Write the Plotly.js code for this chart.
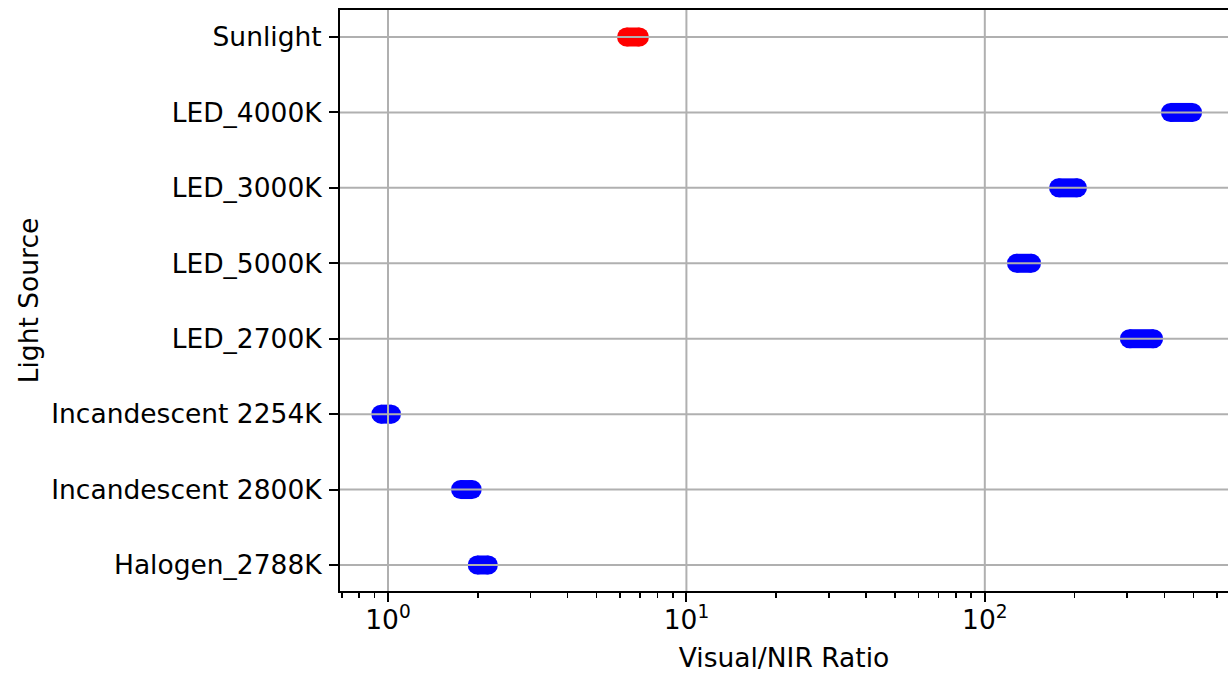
<!DOCTYPE html>
<html>
<head>
<meta charset="utf-8">
<script src="https://cdn.plot.ly/plotly-3.0.1.min.js"></script>
<style>
  html, body { margin: 0; padding: 0; background: #ffffff; }
  #chart { width: 1228px; height: 673px; }
</style>
</head>
<body>
<div id="chart"></div>
<script>
// Light sources, listed bottom to top
const sources = [
  "Halogen_2788K",
  "Incandescent 2800K",
  "Incandescent 2254K",
  "LED_2700K",
  "LED_5000K",
  "LED_3000K",
  "LED_4000K",
  "Sunlight"
];
// Lowest and highest Visual/NIR ratio measured for each source
const ratioLow  = [1.99, 1.75, 0.946, 305, 127.7, 176.6, 419, 6.30];
const ratioHigh = [2.17, 1.915, 1.027, 368, 143.4, 204.5, 497, 6.96];
const highlight = "Sunlight";

const majorTicks = [1, 10, 100];
const majorTickText = ["10<sup>0</sup>", "10<sup>1</sup>", "10<sup>2</sup>"];
const minorTicks = [0.7, 0.8, 0.9, 2, 3, 4, 5, 6, 7, 8, 9,
                    20, 30, 40, 50, 60, 70, 80, 90, 200, 300, 400, 500, 600];

const FONT = "DejaVu Sans, Verdana, sans-serif";
const GRID = "#b0b0b0";

// One trace per colour; each source is a thick capped segment from low to high
function rangeTrace(names, color) {
  const xs = [], ys = [];
  sources.forEach((s, i) => {
    if (!names.includes(s)) return;
    xs.push(ratioLow[i], ratioHigh[i], null);
    ys.push(s, s, null);
  });
  return {
    type: "scatter",
    mode: "lines+markers",
    x: xs, y: ys,
    connectgaps: false,
    line: { color: color, width: 19 },
    marker: { color: color, size: 19, line: { width: 0 } },
    hoverinfo: "x+y",
    showlegend: false
  };
}

const others = sources.filter(s => s !== highlight);
const traces = [
  rangeTrace(others, "#0000ff"),
  rangeTrace([highlight], "#ff0000")
];

// Grid lines sit on top of the marks
const shapes = [];
sources.forEach(s => shapes.push({
  type: "line", layer: "above", xref: "paper", x0: 0, x1: 1, yref: "y", y0: s, y1: s,
  line: { color: GRID, width: 2 }
}));
majorTicks.forEach(v => shapes.push({
  type: "line", layer: "above", xref: "x", x0: v, x1: v,
  yref: "paper", y0: 0, y1: 1,
  line: { color: GRID, width: 2 }
}));

const layout = {
  width: 1228, height: 673,
  margin: { l: 340, r: 0, t: 10, b: 82, pad: 0 },
  paper_bgcolor: "#ffffff", plot_bgcolor: "#ffffff",
  font: { family: FONT, size: 26.5, color: "#000000" },
  shapes: shapes,
  xaxis: {
    type: "log",
    range: [-0.1609, 2.815],
    tickmode: "array", tickvals: majorTicks, ticktext: majorTickText,
    ticks: "outside", ticklen: 9, tickwidth: 2, tickcolor: "#000000",
    ticklabelstandoff: -5,
    showline: true, linecolor: "#000000", linewidth: 2, mirror: true,
    showgrid: false, zeroline: false,
    minor: {
      tickmode: "array", tickvals: minorTicks,
      ticks: "outside", ticklen: 5, tickwidth: 1.6, tickcolor: "#000000",
      showgrid: false
    },
    title: { text: "Visual/NIR Ratio", font: { family: FONT, size: 26.5 }, standoff: 17 },
    automargin: false
  },
  yaxis: {
    type: "category",
    categoryorder: "array", categoryarray: sources,
    range: [-0.345, 7.358],
    ticks: "outside", ticklen: 9, tickwidth: 2, tickcolor: "#000000",
    ticklabelstandoff: 2,
    showline: true, linecolor: "#000000", linewidth: 2,
    showgrid: false, zeroline: false,
    title: { text: "Light Source", font: { family: FONT, size: 26.5 }, standoff: 5 },
    automargin: false
  }
};

Plotly.newPlot("chart", traces, layout, { displayModeBar: false, staticPlot: true });
</script>
</body>
</html>
